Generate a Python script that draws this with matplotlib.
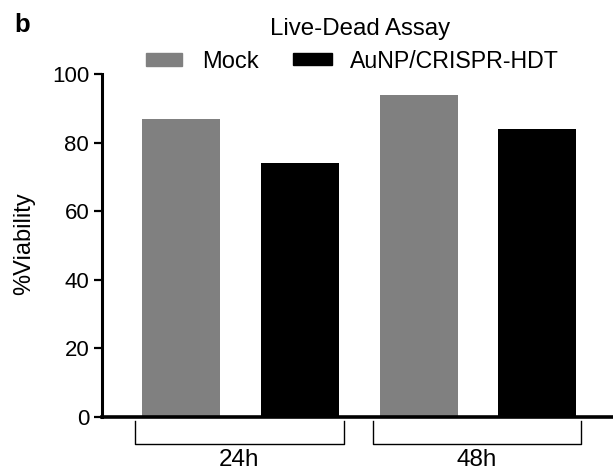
import matplotlib.pyplot as plt
from matplotlib.patches import Rectangle

plt.rcParams['font.family'] = ['Liberation Sans', 'DejaVu Sans']

groups = ['24h', '48h']
series = ['Mock', 'AuNP/CRISPR-HDT']
mock = [87, 94]
hdt = [74, 84]
colors_bar = ['#808080', '#000000']

W, H = 613, 472
fig = plt.figure(figsize=(W / 100, H / 100), dpi=100)
ax = fig.add_axes([101.7 / W, 1 - 417 / H, 1 - 101.7 / W, (417 - 74) / H])

pos_mock = [0, 2]
pos_hdt = [1, 3]
ax.bar(pos_mock, mock, width=0.657, color=colors_bar[0])
ax.bar(pos_hdt, hdt, width=0.657, color=colors_bar[1])

ax.set_xlim(-0.667, 3.636)
ax.set_ylim(0, 100)
ax.set_yticks([0, 20, 40, 60, 80, 100])
ax.tick_params(axis='y', labelsize=16, width=1.6, length=6, pad=3)
ax.set_xticks([])
for s in ['top', 'right']:
    ax.spines[s].set_visible(False)
ax.spines['left'].set_linewidth(2.2)
ax.spines['bottom'].set_linewidth(2.6)

fig.text(24 / W, 1 - 244 / H, '%Viability', rotation=90, ha='center', va='center', fontsize=17)

# group brackets under the axis
for i, g in enumerate(groups):
    c = 0.49 + 2 * i
    x0, x1 = c - 0.878, c + 0.878
    ax.plot([x0, x0, x1, x1], [-1.2, -7.9, -7.9, -1.2], color='black', lw=1.0, clip_on=False)
    ax.text(c, -14.3, g, ha='center', va='baseline', fontsize=17.5)

# legend drawn by hand
fig.patches.append(Rectangle((146 / W, 1 - 66 / H), 36 / W, 13 / H, color=colors_bar[0],
                             transform=fig.transFigure, figure=fig))
fig.patches.append(Rectangle((293 / W, 1 - 65 / H), 39 / W, 12 / H, color=colors_bar[1],
                             transform=fig.transFigure, figure=fig))
fig.text(202 / W, 1 - 68.5 / H, series[0], ha='left', va='baseline', fontsize=17)
fig.text(350 / W, 1 - 68.5 / H, series[1], ha='left', va='baseline', fontsize=16.7)

fig.text(360.5 / W, 1 - 35 / H, 'Live-Dead Assay', ha='center', va='baseline', fontsize=17.3)
fig.text(14 / W, 1 - 32 / H, 'b', ha='left', va='baseline', fontsize=18.5, fontweight='bold')

fig.savefig('out.png', dpi=100)
